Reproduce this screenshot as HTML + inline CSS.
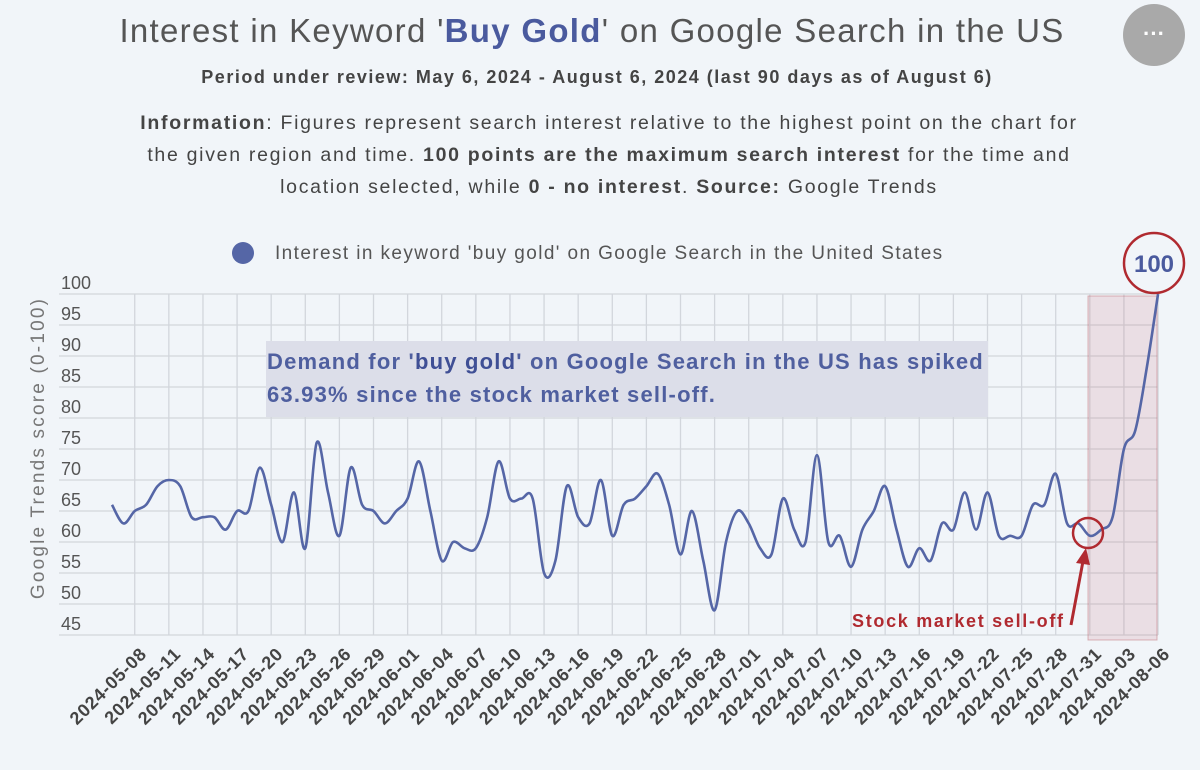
<!DOCTYPE html>
<html><head><meta charset="utf-8">
<style>
body{margin:0;background:#f1f5f9;width:1200px;height:770px;overflow:hidden;font-family:"Liberation Sans",sans-serif;}
svg{display:block}
</style></head>
<body>
<svg id="chart" width="1200" height="770">
<rect width="1200" height="770" fill="#f1f5f9"/>
<text x="592" y="42" text-anchor="middle" font-size="33" letter-spacing="1.3" fill="#555">Interest in Keyword '<tspan font-weight="bold" fill="#4a5a9e">Buy Gold</tspan>' on Google Search in the US</text>
<g><circle cx="1154" cy="35" r="31" fill="#a9a9a9"/><text x="1154" y="41" text-anchor="middle" font-size="22" font-weight="bold" fill="#fff">···</text></g>
<text x="597" y="83" text-anchor="middle" font-size="18" letter-spacing="1.5" font-weight="bold" fill="#444">Period under review: May 6, 2024 - August 6, 2024 (last 90 days as of August 6)</text>
<g font-size="19.5" letter-spacing="1.7" fill="#444" text-anchor="middle">
<text x="609" y="129"><tspan font-weight="bold">Information</tspan>: Figures represent search interest relative to the highest point on the chart for</text>
<text x="609" y="161">the given region and time. <tspan font-weight="bold">100 points are the maximum search interest</tspan> for the time and</text>
<text x="609" y="193">location selected, while <tspan font-weight="bold">0 - no interest</tspan>. <tspan font-weight="bold">Source:</tspan> Google Trends</text>
</g>
<g><circle cx="243" cy="253" r="11" fill="#5566a6"/><text x="275" y="259" font-size="19" letter-spacing="1.4" fill="#555">Interest in keyword 'buy gold' on Google Search in the United States</text></g>
<g id="grid"></g>
<g id="yaxis"></g>
<g id="xaxis"></g>
<text transform="translate(44,448) rotate(-90)" text-anchor="middle" font-size="19" letter-spacing="2.2" fill="#777">Google Trends score (0-100)</text>
<rect x="1088" y="296" width="69" height="344" fill="#c0606a" fill-opacity="0.15" stroke="#c07078" stroke-opacity="0.5"/>
<rect x="266" y="341" width="722" height="76" fill="#dcdee9"/>
<g font-size="22" letter-spacing="1.2" font-weight="bold" fill="#4f5f9f">
<text x="267" y="369">Demand for '<tspan fill="#3f4f95">buy gold</tspan>' on Google Search in the US has spiked</text>
<text x="267" y="402">63.93% since the stock market sell-off.</text>
</g>
<path id="line" fill="none" stroke="#5566a6" stroke-width="2.6"/>
<circle cx="1088" cy="533" r="15" fill="none" stroke="#b02a30" stroke-width="2.5"/>
<line x1="1071" y1="625" x2="1084" y2="556" stroke="#b02a30" stroke-width="3"/>
<polygon points="1086,548 1076,563 1090,565" fill="#b02a30"/>
<text x="852" y="627" font-size="18" letter-spacing="1.7" font-weight="bold" fill="#b02a30">Stock market sell-off</text>
<circle cx="1154" cy="263" r="30" fill="#f1f5f9" stroke="#b02a30" stroke-width="2.5"/>
<text x="1154" y="272" text-anchor="middle" font-size="24" font-weight="bold" fill="#4a5a9e">100</text>
</svg>
<script>
const values=[66,63,65,66,69,70,69,64,64,64,62,65,65,72,66,60,68,59,76,68,61,72,66,65,63,65,67,73,65,57,60,59,59,64,73,67,67,67,55,57,69,64,63,70,61,66,67,69,71,66,58,65,57,49,60,65,63,59,58,67,62,60,74,60,61,56,62,65,69,62,56,59,57,63,62,68,62,68,61,61,61,66,66,71,63,63,61,62,64,75,78,88,100];
const yTicks=[45,50,55,60,65,70,75,80,85,90,95,100];
const startDate="2024-05-06";
const tickEvery=3, tickStart=2;
const NS="http://www.w3.org/2000/svg";
const x0=112, dx=11.37;
function xs(i){return x0+i*dx;}
function ys(v){return 635-(v-45)*(341/55);}
function mk(t,a,p){const e=document.createElementNS(NS,t);for(const k in a)e.setAttribute(k,a[k]);p.appendChild(e);return e;}
const grid=document.getElementById('grid'),ya=document.getElementById('yaxis'),xa=document.getElementById('xaxis');
yTicks.forEach(v=>{
  const l=mk('line',{x1:59,x2:1158,y1:ys(v),y2:ys(v),stroke:'#d2d6dc','stroke-width':1.3},grid);
  
  
  const t=mk('text',{x:61,y:ys(v)-5,'font-size':18,fill:'#555'},ya);
  t.textContent=v;
  
  
});
const d0=new Date(startDate+"T00:00:00Z");
for(let i=tickStart;i<values.length;i+=tickEvery){
  const x=xs(i);
  const l=mk('line',{x1:x,x2:x,y1:ys(100),y2:ys(45),stroke:'#d2d6dc','stroke-width':1.3},grid);
  
  
  const d=new Date(d0.getTime()+i*86400000);
  const t=mk('text',{transform:`translate(${x+13},${655}) rotate(-45)`,'text-anchor':'end','font-size':18,'letter-spacing':0.8,'font-weight':'bold',fill:'#444'},xa);
  t.textContent=d.toISOString().slice(0,10);
  
  
}
const pts=values.map((v,i)=>[xs(i),ys(v)]);
let d=`M${pts[0][0]},${pts[0][1]}`;
for(let i=0;i<pts.length-1;i++){
  const p0=pts[Math.max(0,i-1)],p1=pts[i],p2=pts[i+1],p3=pts[Math.min(pts.length-1,i+2)];
  const c1=[p1[0]+(p2[0]-p0[0])/6,p1[1]+(p2[1]-p0[1])/6],c2=[p2[0]-(p3[0]-p1[0])/6,p2[1]-(p3[1]-p1[1])/6];
  d+=` C${c1[0]},${c1[1]} ${c2[0]},${c2[1]} ${p2[0]},${p2[1]}`;
}
document.getElementById('line').setAttribute('d',d);
</script>
</body></html>
